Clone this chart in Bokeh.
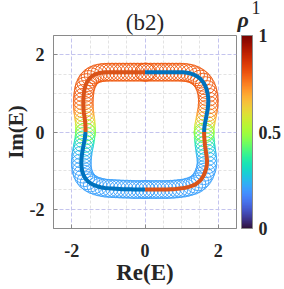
from bokeh.plotting import figure
from bokeh.models import (ColumnDataSource, LinearColorMapper, ColorBar, FixedTicker, Range1d)
from bokeh.palettes import Turbo256
from bokeh.transform import transform
from bokeh.embed import file_html
from bokeh.resources import INLINE

# ---- data ----
# quadrant II (orange line): top centre -> left waist
q2_re = [0.0, -0.1, -0.2, -0.3, -0.4, -0.5, -0.6, -0.7, -0.8, -0.9, -1.0,
         -1.1, -1.2, -1.3, -1.39, -1.47, -1.54, -1.59, -1.63, -1.655, -1.67,
         -1.68, -1.685, -1.685, -1.68, -1.67, -1.655, -1.64, -1.63, -1.625, -1.625]
q2_im = [1.55, 1.55, 1.55, 1.55, 1.55, 1.55, 1.55, 1.55, 1.55, 1.55, 1.55,
         1.545, 1.535, 1.515, 1.48, 1.43, 1.36, 1.28, 1.19, 1.1, 1.0,
         0.9, 0.8, 0.7, 0.6, 0.5, 0.4, 0.3, 0.2, 0.1, 0.0]
q2_rho = [0.80] * 21 + [0.80, 0.79, 0.78, 0.76, 0.72, 0.68, 0.63, 0.58, 0.52, 0.47]

# quadrant III (blue line): left waist -> bottom centre
q3_re = [-1.625, -1.635, -1.65, -1.67, -1.69, -1.71, -1.725, -1.735, -1.74, -1.735,
         -1.72, -1.69, -1.645, -1.58, -1.5, -1.41, -1.31, -1.21, -1.1, -1.0,
         -0.9, -0.8, -0.7, -0.6, -0.5, -0.4, -0.3, -0.2, -0.1, 0.0]
q3_im = [0.0, -0.1, -0.2, -0.3, -0.4, -0.5, -0.6, -0.7, -0.8, -0.9,
         -1.0, -1.09, -1.18, -1.26, -1.32, -1.37, -1.405, -1.43, -1.45, -1.46,
         -1.465, -1.47, -1.475, -1.48, -1.48, -1.485, -1.49, -1.49, -1.49, -1.49]
q3_rho = [0.47, 0.42, 0.37, 0.32, 0.28, 0.25, 0.23, 0.22, 0.21] + [0.21] * 21

# quadrant IV (orange line): bottom centre -> right waist
q4_re = [0.0, 0.1, 0.2, 0.3, 0.4, 0.5, 0.6, 0.7, 0.8, 0.9,
         1.0, 1.1, 1.2, 1.3, 1.39, 1.47, 1.54, 1.6, 1.64, 1.67,
         1.69, 1.695, 1.685, 1.67, 1.655, 1.64, 1.63, 1.62, 1.615, 1.615]
q4_im = [-1.49, -1.49, -1.49, -1.49, -1.49, -1.49, -1.49, -1.485, -1.48, -1.47,
         -1.46, -1.445, -1.42, -1.39, -1.35, -1.29, -1.22, -1.13, -1.04, -0.95,
         -0.85, -0.75, -0.65, -0.55, -0.45, -0.35, -0.25, -0.15, -0.05, 0.0]
q4_rho = [0.21] * 19 + [0.21, 0.21, 0.22, 0.225, 0.24, 0.265, 0.30, 0.345, 0.395, 0.445, 0.47]

# quadrant I (blue line): right waist -> top centre
q1_re = [1.615, 1.62, 1.635, 1.655, 1.675, 1.695, 1.715, 1.725, 1.73, 1.725,
         1.71, 1.685, 1.645, 1.59, 1.52, 1.44, 1.35, 1.25, 1.15, 1.05,
         0.95, 0.85, 0.75, 0.65, 0.55, 0.45, 0.35, 0.25, 0.15, 0.05, 0.0]
q1_im = [0.0, 0.1, 0.2, 0.3, 0.4, 0.5, 0.6, 0.7, 0.8, 0.9,
         1.0, 1.1, 1.2, 1.29, 1.37, 1.43, 1.48, 1.515, 1.535, 1.545,
         1.55, 1.55, 1.55, 1.55, 1.55, 1.55, 1.55, 1.55, 1.55, 1.55, 1.55]
q1_rho = [0.47, 0.52, 0.58, 0.63, 0.68, 0.72, 0.76, 0.78, 0.79, 0.80] + [0.80] * 21

x_ticks = [-2, 0, 2]
y_ticks = [-2, 0, 2]
minor_ticks = [-2.5, -1.5, -1, -0.5, 0.5, 1, 1.5, 2.5]
cbar_ticks = [0, 0.5, 1]

ORANGE = "#D95319"
BLUE = "#0072BD"
SERIF = "Liberation Serif"
TXT = "#262626"

p = figure(frame_width=183, frame_height=193,
           x_range=Range1d(-2.5, 2.5), y_range=Range1d(-2.5, 2.5),
           output_backend="svg", toolbar_location=None,
           min_border_left=51, min_border_right=50, min_border_top=35, min_border_bottom=61)

mapper = LinearColorMapper(palette=Turbo256, low=0, high=1)

src = ColumnDataSource(dict(re=q2_re + q3_re + q4_re + q1_re,
                            im=q2_im + q3_im + q4_im + q1_im,
                            rho=q2_rho + q3_rho + q4_rho + q1_rho))
p.ellipse(x="re", y="im", width=20, height=18, width_units="screen", height_units="screen",
          fill_color=None, line_color=transform("rho", mapper), line_width=0.9, source=src)

p.line(q2_re, q2_im, line_color=ORANGE, line_width=4)
p.line(q4_re, q4_im, line_color=ORANGE, line_width=4)
p.line(q3_re, q3_im, line_color=BLUE, line_width=4)
p.line(q1_re, q1_im, line_color=BLUE, line_width=4)

for ax, ticks in ((p.xaxis[0], x_ticks), (p.yaxis[0], y_ticks)):
    ax.ticker = FixedTicker(ticks=ticks, minor_ticks=minor_ticks)
    ax.major_label_overrides = {-2: "-2", 0: "0", 2: "2"}
    ax.major_label_text_font = SERIF
    ax.major_label_text_font_style = "bold"
    ax.major_label_text_font_size = "18px"
    ax.major_label_text_color = TXT
    ax.axis_label_text_font = SERIF
    ax.axis_label_text_font_style = "bold"
    ax.axis_label_text_color = TXT
    ax.axis_line_color = "#8a8a8a"
    ax.major_tick_in = 4
    ax.major_tick_out = 0
    ax.major_tick_line_color = "#8a8a8a"
    ax.minor_tick_line_color = None

p.xaxis.axis_label = "Re(E)"
p.yaxis.axis_label = "Im(E)"
p.xaxis.axis_label_text_font_size = "23px"
p.yaxis.axis_label_text_font_size = "21px"
p.xaxis.major_label_standoff = 11
p.yaxis.major_label_standoff = 5
p.xaxis.axis_label_standoff = 0
p.yaxis.axis_label_standoff = -1

for g in (p.xgrid[0], p.ygrid[0]):
    g.grid_line_color = "#c4c4ee"
    g.grid_line_dash = "4 2"
    g.grid_line_width = 1
    g.minor_grid_line_color = "#e3e3e3"
    g.minor_grid_line_dash = "3 2"

p.outline_line_color = "#8a8a8a"
p.background_fill_color = "white"

p.title.text = "(b2)"
p.title.align = "center"
p.title.text_font = SERIF
p.title.text_font_style = "normal"
p.title.text_font_size = "23px"
p.title.text_color = TXT
p.title.standoff = 1

cb = ColorBar(color_mapper=mapper, location=(188, 0), width=11, height=193,
              margin=0, padding=0, ticker=FixedTicker(ticks=cbar_ticks),
              major_label_text_font=SERIF, major_label_text_font_style="bold",
              major_label_text_font_size="18px", major_label_text_color=TXT,
              major_tick_line_color=None, bar_line_color="#8a8a8a",
              label_standoff=6, background_fill_color=None, border_line_color=None)
p.add_layout(cb, "center")

# colour-bar heading "ρ" with its superscript, drawn as tick labels of invisible bars
def heading(x0, h, text, size, style):
    hb = ColorBar(color_mapper=mapper, location=(x0, 0), width=1, height=h,
                  margin=0, padding=0, ticker=FixedTicker(ticks=[1]),
                  major_label_overrides={1: text}, scale_alpha=0,
                  major_label_text_font=SERIF, major_label_text_font_style=style,
                  major_label_text_font_size=size, major_label_text_color=TXT,
                  major_tick_line_color=None, minor_tick_line_color=None,
                  bar_line_color=None, label_standoff=4,
                  background_fill_color=None, border_line_color=None)
    p.add_layout(hb, "center")

heading(179, 209, "ρ", "22px", "bold italic")
heading(193, 221, "1", "18px", "normal")

open("out.html", "w").write(file_html(p, INLINE))
